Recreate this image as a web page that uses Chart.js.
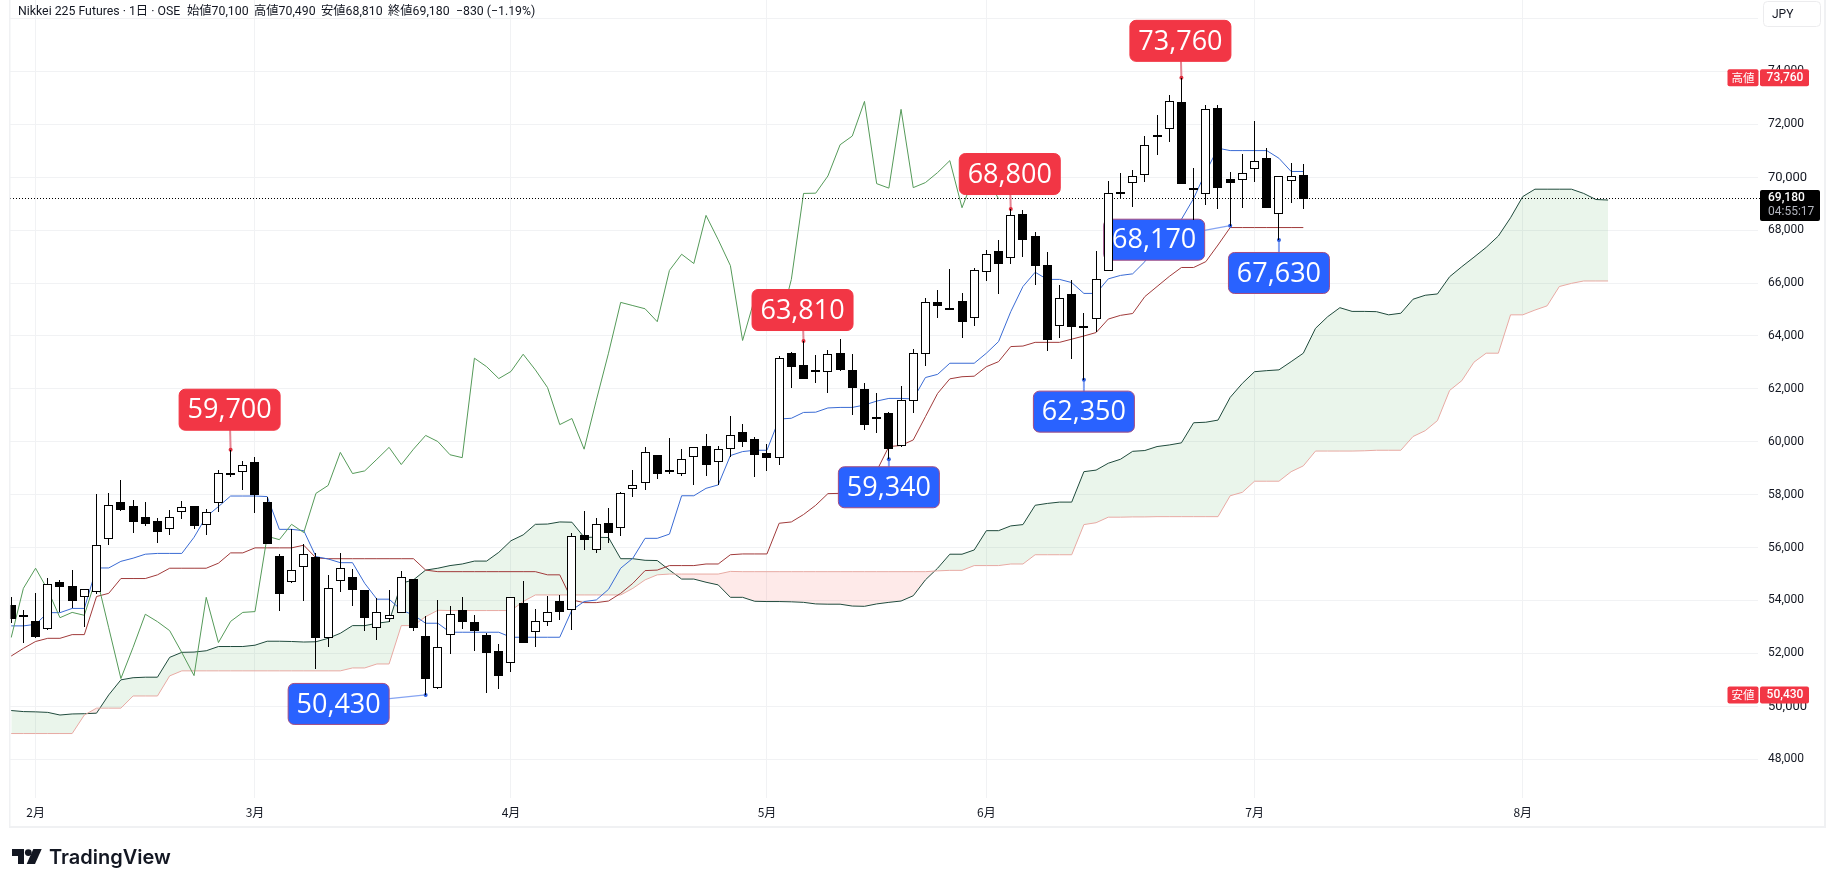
<!DOCTYPE html>
<html lang="ja">
<head>
<meta charset="utf-8">
<title>Nikkei 225 Futures</title>
<script src="https://cdn.jsdelivr.net/npm/chart.js@4"></script>
<style>
  html, body { margin: 0; padding: 0; background: #ffffff; overflow: hidden; }
  canvas { display: block; }
</style>
</head>
<body>
<canvas id="chart" width="1827" height="887"></canvas>
<script>
// Daily OHLC of the session series, one entry per trading day.
const openPrices = [53830,53450,53210,52910,54700,54550,54120,54340,56310,57710,57560,57150,56990,56690,57330,57560,56840,57670,58830,58850,59220,57720,55680,54710,55280,55650,52600,54750,54890,54400,52970,53310,53520,54800,52650,50680,52680,53630,53190,52700,52090,51630,53910,52800,53180,53970,53630,56480,55920,56930,56730,58230,58430,59490,58940,58800,59410,59830,59220,59740,60360,60110,59580,59370,63350,62890,62700,62620,63350,62720,62000,60920,61080,59830,61530,63310,65290,65060,65310,64690,66430,67210,66940,68610,67780,66690,64390,65590,64360,64630,66450,69440,69770,70070,71600,71820,72840,69610,69360,72610,69930,69890,70300,70720,68600,69850,70100];
const highPrices = [54120,53640,54270,54850,54780,55150,54440,58030,58070,58560,57800,57720,57110,57420,57760,57570,57450,58930,59700,59270,59410,57900,55760,56690,56140,55780,54950,55780,55180,54410,54080,54400,55100,54810,53430,54020,53790,54130,53450,52760,52360,54130,54730,53670,54160,54200,56540,57370,57120,57500,58090,58930,59800,59500,60140,59730,59800,60300,59840,60980,60670,60180,59920,63250,63400,63810,63280,63470,63880,63320,62210,61830,61140,62110,63500,65440,65740,66520,65610,66560,67250,67630,68800,68760,67930,67180,65930,66120,64870,67210,69860,70150,70280,71560,72360,73110,73760,70340,72740,72740,70190,70880,72130,71100,70050,70530,70490];
const lowPrices = [53160,52410,52580,52900,53550,53730,53010,54250,56110,57400,56570,56820,56190,56480,57090,56700,56480,57360,58680,58180,57320,56130,53600,54650,53980,51410,52240,54320,53810,52850,52510,53200,53510,52850,50430,50670,51990,52920,52100,50520,50670,51310,52400,52260,53050,53260,52890,55910,55810,56190,56450,57930,58180,58590,58800,58710,58370,58710,58370,59410,59800,58670,58900,59130,62050,62380,62240,61830,62690,61020,60450,60350,59340,59820,61070,62880,64690,65030,63940,64390,66090,65600,66720,67000,65930,63450,63940,63140,62350,64140,66440,69210,68890,69840,70850,71350,69750,68390,68960,68800,68170,68850,69840,68850,67630,69010,68810];
const closePrices = [53300,53400,52620,54610,54520,53990,54420,56090,57600,57420,56980,56900,56600,57160,57550,56830,57330,58810,58780,59110,57990,56140,54250,55140,55750,52600,54460,55220,54400,53350,53550,53440,54900,52970,51050,52230,53480,53200,52860,52030,51160,54120,52410,53210,53550,53580,56430,56300,56880,56570,58050,58350,59600,58800,58900,59340,59790,59140,59720,60240,60010,59510,59400,63160,62840,62390,62660,63310,62720,62050,60650,60880,59720,61570,63350,65270,65150,65030,64540,66480,67090,66740,68560,67640,66660,63830,65430,64350,64330,66140,69390,69400,70050,71230,71560,72870,69760,69590,72570,69610,69800,70180,70630,68850,70040,70040,69180];

// Ichimoku components.
const conversionLine = [53040,53040,53100,53540,53540,53700,53700,55230,55230,55480,55600,55750,55780,55780,55780,56390,57170,57550,57950,57950,57950,57930,56690,56690,56640,55660,55570,55430,55430,54650,54050,54050,53640,53450,53140,53140,52800,52800,52800,52800,52800,52610,52610,52610,52610,52610,53640,53960,54020,54420,55220,55600,56350,56350,56510,57960,57960,58240,58370,59480,59630,59680,59680,60860,60890,61110,61120,61280,61300,61300,61390,61540,61640,61640,61620,62430,62550,62970,62970,62970,63350,63790,64920,65870,66410,66140,66140,66020,65610,65610,66160,66290,66350,66810,67510,68010,68410,69200,70200,71100,71010,71010,71010,71010,70720,70220,70220];
const baseLine = [51900,52190,52450,52570,52570,52710,52710,54150,54270,54830,54830,54830,54970,55220,55220,55220,55220,55410,55800,55800,55990,55990,55990,55990,56090,55610,55580,55580,55580,55580,55580,55580,55580,55580,55150,55090,55090,55090,55090,55090,55090,55090,55090,55090,54970,54970,54020,53920,53920,53980,54270,54650,55130,55150,55320,55320,55320,55380,55380,55730,55760,55760,55760,56920,56970,57250,57600,58040,58050,58100,58400,58900,59820,59860,60070,60950,61830,62380,62460,62480,62840,63030,63600,63620,63760,63760,63760,63880,64000,64130,64640,64780,64850,65490,65870,66250,66590,66590,66810,67440,68100,68100,68100,68100,68100,68100,68100];
const laggingSpan = [52600,54460,55220,54400,53350,53550,53440,54900,52970,51050,52230,53480,53200,52860,52030,51160,54120,52410,53210,53550,53580,56430,56300,56880,56570,58050,58350,59600,58800,58900,59340,59790,59140,59720,60240,60010,59510,59400,63160,62840,62390,62660,63310,62720,62050,60650,60880,59720,61570,63350,65270,65150,65030,64540,66480,67090,66740,68560,67640,66660,63830,65430,64350,64330,66140,69390,69400,70050,71230,71560,72870,69760,69590,72570,69610,69800,70180,70630,68850,70040,70040,69180];
const leadingSpanA = [49840,49800,49790,49770,49670,49710,49720,49740,50430,51000,51080,51100,51100,51850,52040,52050,52100,52260,52260,52260,52310,52460,52460,52450,52430,52440,52570,52760,53050,53050,53140,53200,54650,54780,55150,55220,55320,55380,55490,55490,55820,56260,56480,56880,56890,56970,56960,56390,56390,56380,55580,55580,55520,55510,55150,54810,54810,54690,54590,54120,54120,53970,53960,53960,53950,53930,53870,53860,53860,53790,53780,53870,53930,53980,54180,54780,55220,55750,55750,55910,56640,56640,56820,56870,57600,57670,57720,57720,58870,58930,59190,59340,59640,59670,59820,59880,59960,60720,60740,60820,61680,62210,62650,62690,62720,63030,63350,64290,64730,65070,64930,64930,64920,64800,64860,65390,65540,65590,66240,66620,66980,67350,67780,68470,69270,69550,69550,69550,69550,69390,69160,69140];
const leadingSpanB = [48970,48970,48970,48970,48970,48970,49670,49930,49930,49930,50390,50390,50390,51150,51340,51340,51340,51340,51340,51340,51340,51340,51340,51340,51340,51340,51340,51340,51450,51450,51600,51600,53050,53050,53390,53630,53620,53620,53620,53620,53620,53620,53960,54210,54210,54210,54210,54210,54210,54210,54210,54460,54780,54970,55000,55000,55000,55000,55000,55100,55090,55090,55090,55090,55090,55090,55090,55090,55090,55090,55090,55090,55090,55090,55090,55090,55120,55140,55140,55320,55320,55320,55380,55380,55730,55730,55730,55730,56870,56940,57150,57150,57160,57160,57170,57170,57170,57170,57170,57170,57960,58090,58510,58510,58510,58870,59090,59650,59650,59650,59650,59660,59680,59680,59680,60200,60420,60800,61940,62310,63010,63350,63350,64800,64800,64980,65140,65870,65990,66080,66080,66080];

// Month boundaries on the bar axis and their captions.
const monthBars = [2,20,41,62,80,102,124];
const monthLabels = ['2月','3月','4月','5月','6月','7月','8月'];

// Price axis levels; the topmost one keeps its grid line but carries no caption.
const priceTicks = [48000,50000,52000,54000,56000,58000,60000,62000,64000,66000,68000,70000,72000,74000,76000];

// Swing highs and lows called out on the chart.
const swingBars   = [18,34,65,72,82,88,96,100,104];
const swingValues = [59700,50430,63810,59340,68800,62350,73760,68170,67630];
const swingKinds  = ['high','low','high','low','high','low','high','low','low'];
// Offset of each callout box from its marker, in pixels.
const swingOffsetX = [-1,-87,-1,0,-1,0,-1,-76,0];
const swingOffsetY = [-40,9,-31,28,-35,32,-37,14,33];

const lastClose = 69180;
const rangeHigh = 73760;
const rangeLow = 50430;
const countdown = '04:55:17';
const legendText = 'Nikkei 225 Futures · 1日 · OSE';
const legendFields = ['始値70,100','高値70,490','安値68,810','終値69,180','−830 (−1.19%)'];

const UI_FONT = 'Roboto, "Noto Sans CJK JP", sans-serif';
const CALLOUT_FONT = '"Open Sans", sans-serif';
const RED = '#f23645';
const BLUE = '#2962ff';
const GRID = '#f1f2f4';

const points = (series) => series.map((y, x) => ({ x, y }));
const rising = closePrices.map((c, i) => c >= openPrices[i]);

function roundedBox(ctx, x, y, w, h, r, fill, stroke, lw) {
  ctx.beginPath();
  ctx.roundRect(x, y, w, h, r);
  ctx.fillStyle = fill;
  ctx.fill();
  if (stroke) { ctx.strokeStyle = stroke; ctx.lineWidth = lw || 1; ctx.stroke(); }
}

// Candles land on whole device pixels so wicks and outlines stay crisp.
const candleSnapPlugin = {
  id: 'candleSnap',
  beforeDatasetDraw(chart, args) {
    if (args.meta.type !== 'bar') return;
    const isBody = chart.data.datasets[args.index].label === 'Bodies';
    args.meta.data.forEach((bar) => {
      bar.x = Math.round(bar.x - 0.5) + 0.5;
      let top = Math.round(Math.min(bar.y, bar.base));
      let bottom = Math.round(Math.max(bar.y, bar.base));
      if (isBody && bottom - top < 2) bottom = top + 2;
      bar.y = top;
      bar.base = bottom;
      bar.height = bottom - top;
    });
  }
};

// Last price line and swing callouts sit above the indicator lines, below the candles.
const overlayPlugin = {
  id: 'priceOverlays',
  afterDatasetDraw(chart, args) {
    if (chart.data.datasets[args.index].label !== 'Lagging Span') return;
    const { ctx, chartArea, scales: { x, y } } = chart;
    ctx.save();

    const py = Math.round(y.getPixelForValue(lastClose)) - 0.5;
    ctx.beginPath();
    ctx.setLineDash([1, 2]);
    ctx.strokeStyle = '#000000';
    ctx.lineWidth = 1;
    ctx.moveTo(chartArea.left, py);
    ctx.lineTo(chartArea.right + 2, py);
    ctx.stroke();
    ctx.setLineDash([]);

    swingBars.forEach((bar, k) => {
      const high = swingKinds[k] === 'high';
      const mx = x.getPixelForValue(bar);
      const my = y.getPixelForValue(swingValues[k]);
      const cx = mx + swingOffsetX[k];
      const cy = my + swingOffsetY[k];
      const w = 101, h = 41;

      ctx.beginPath();
      ctx.moveTo(cx, cy);
      ctx.lineTo(mx, my);
      ctx.strokeStyle = high ? '#e58593' : '#86a4f2';
      ctx.lineWidth = Math.abs(swingOffsetX[k]) > 5 ? 1.2 : 2;
      ctx.stroke();

      ctx.beginPath();
      ctx.arc(mx, my, 2, 0, Math.PI * 2);
      ctx.fillStyle = high ? '#e0303f' : '#2f5fe0';
      ctx.fill();

      roundedBox(ctx, cx - w / 2, cy - h / 2, w, h, 6, high ? RED : BLUE, high ? RED : '#a54c80', 1);
      ctx.fillStyle = '#ffffff';
      ctx.font = '27px ' + CALLOUT_FONT;
      ctx.textAlign = 'center';
      ctx.textBaseline = 'middle';
      ctx.fillText(swingValues[k].toLocaleString('en-US'), cx, cy + 1);
    });
    ctx.restore();
  },
  afterDraw(chart) {
    const { ctx, scales: { y } } = chart;
    ctx.save();

    // Pane frame.
    ctx.fillStyle = '#f0f1f3';
    ctx.fillRect(9, 0, 1.5, 827);
    ctx.fillRect(9, 826, 1816, 2);
    ctx.fillRect(1824, 0, 2, 828);

    // Legend line.
    ctx.fillStyle = '#131722';
    ctx.font = '12.3px ' + UI_FONT;
    ctx.textAlign = 'left';
    ctx.textBaseline = 'middle';
    ctx.fillText(legendText, 18, 12);
    const fieldX = [187, 254, 321, 388, 456];
    legendFields.forEach((t, i) => ctx.fillText(t, fieldX[i], 12));

    // Currency button.
    roundedBox(ctx, 1763.5, 1.5, 57, 25, 4, '#ffffff', '#ececee', 1);
    ctx.fillStyle = '#131722';
    ctx.font = '12px ' + UI_FONT;
    ctx.fillText('JPY', 1772, 15);

    // Range tags on the price axis.
    const tag = (caption, value) => {
      const cy = y.getPixelForValue(value);
      roundedBox(ctx, 1727.5, cy - 8.5, 31, 17, 2, RED);
      roundedBox(ctx, 1760, cy - 8.5, 49, 17, 2, RED);
      ctx.fillStyle = '#ffffff';
      ctx.textAlign = 'center';
      ctx.font = '11.5px "Noto Sans CJK JP", sans-serif';
      ctx.fillText(caption, 1743, cy);
      ctx.font = '500 12px ' + UI_FONT;
      ctx.fillText(value.toLocaleString('en-US'), 1785, cy);
    };
    tag('高値', rangeHigh);
    tag('安値', rangeLow);

    // Last price tag with bar countdown.
    const cy = y.getPixelForValue(lastClose);
    roundedBox(ctx, 1760, cy - 9, 60, 31, 2, '#000000');
    ctx.textAlign = 'left';
    ctx.fillStyle = '#ffffff';
    ctx.font = '500 12px ' + UI_FONT;
    ctx.fillText(lastClose.toLocaleString('en-US'), 1768, cy - 1);
    ctx.fillStyle = '#b2b5be';
    ctx.font = '12px ' + UI_FONT;
    ctx.fillText(countdown, 1768, cy + 13);

    // Wordmark below the pane.
    ctx.fillStyle = '#131722';
    ctx.beginPath();
    ctx.moveTo(12, 849); ctx.lineTo(24, 849); ctx.lineTo(24, 864);
    ctx.lineTo(18, 864); ctx.lineTo(18, 856); ctx.lineTo(12, 856); ctx.closePath();
    ctx.fill();
    ctx.beginPath();
    ctx.arc(28.3, 852.6, 3.4, 0, Math.PI * 2);
    ctx.fill();
    ctx.beginPath();
    ctx.moveTo(33.3, 849); ctx.lineTo(41.7, 849); ctx.lineTo(35, 864); ctx.lineTo(26.7, 864); ctx.closePath();
    ctx.fill();
    ctx.font = '600 20px Inter, Roboto, sans-serif';
    ctx.textAlign = 'left';
    ctx.textBaseline = 'alphabetic';
    ctx.fillText('TradingView', 49, 864);
    ctx.restore();
  }
};

const lineSet = (label, series, color, order, extra) => Object.assign({
  type: 'line', label, data: points(series), borderColor: color, borderWidth: 1,
  pointRadius: 0, tension: 0, fill: false, order
}, extra);

new Chart(document.getElementById('chart'), {
  type: 'bar',
  data: {
    datasets: [
      lineSet('Leading Span A', leadingSpanA, '#1f4a3c', 10, {
        fill: { target: 1, above: 'rgba(67,160,71,0.11)', below: 'rgba(244,67,54,0.11)' }
      }),
      lineSet('Leading Span B', leadingSpanB, '#e7aaa3', 9),
      lineSet('Base Line', baseLine, '#a03a3a', 8),
      lineSet('Conversion Line', conversionLine, '#3a6bd4', 7),
      lineSet('Lagging Span', laggingSpan, '#559a59', 6),
      {
        type: 'bar', label: 'Wicks', order: 2, grouped: false, barThickness: 1,
        backgroundColor: '#000000', borderWidth: 0, inflateAmount: 0,
        data: highPrices.map((h, i) => ({ x: i, y: [lowPrices[i], h] }))
      },
      {
        type: 'bar', label: 'Bodies', order: 1, grouped: false, barThickness: 9,
        backgroundColor: rising.map((up) => (up ? '#ffffff' : '#000000')),
        borderColor: '#000000', borderWidth: 1, borderSkipped: false, inflateAmount: 0,
        data: openPrices.map((o, i) => ({ x: i, y: [o, closePrices[i]] }))
      }
    ]
  },
  options: {
    responsive: false,
    animation: false,
    parsing: { xAxisKey: 'x', yAxisKey: 'y' },
    layout: { padding: { left: 10, top: 0, right: 3, bottom: 60 } },
    plugins: { legend: { display: false }, tooltip: { enabled: false } },
    scales: {
      x: {
        type: 'linear', position: 'bottom', min: -0.098, max: 143.3, offset: false,
        afterFit(s) { s.height = 29; s.paddingLeft = 0; s.paddingRight = 0; },
        afterBuildTicks(s) { s.ticks = monthBars.map((value) => ({ value })); },
        grid: { color: GRID, lineWidth: 1, offset: false, tickLength: 0, drawTicks: false },
        border: { display: false },
        ticks: {
          autoSkip: false, maxRotation: 0, padding: 7, color: '#131722',
          font: { family: '"Noto Sans CJK JP", sans-serif', size: 12 },
          callback: (v) => monthLabels[monthBars.indexOf(v)]
        }
      },
      y: {
        type: 'linear', position: 'right', min: 46533, max: 76703,
        afterFit(s) { s.width = 66; s.paddingTop = 0; s.paddingBottom = 0; },
        afterBuildTicks(s) { s.ticks = priceTicks.map((value) => ({ value })); },
        grid: { color: GRID, lineWidth: 1, tickLength: 0, drawTicks: false },
        border: { display: false },
        ticks: {
          autoSkip: false, padding: 10, color: '#131722',
          font: (c) => ({
            family: UI_FONT,
            size: (c.tick && (c.tick.value === 70000 || c.tick.value === 50000)) ? 13 : 12
          }),
          callback: (v) => (v > 74000 ? '' : v.toLocaleString('en-US'))
        }
      }
    }
  },
  plugins: [candleSnapPlugin, overlayPlugin]
});
</script>
</body>
</html>
